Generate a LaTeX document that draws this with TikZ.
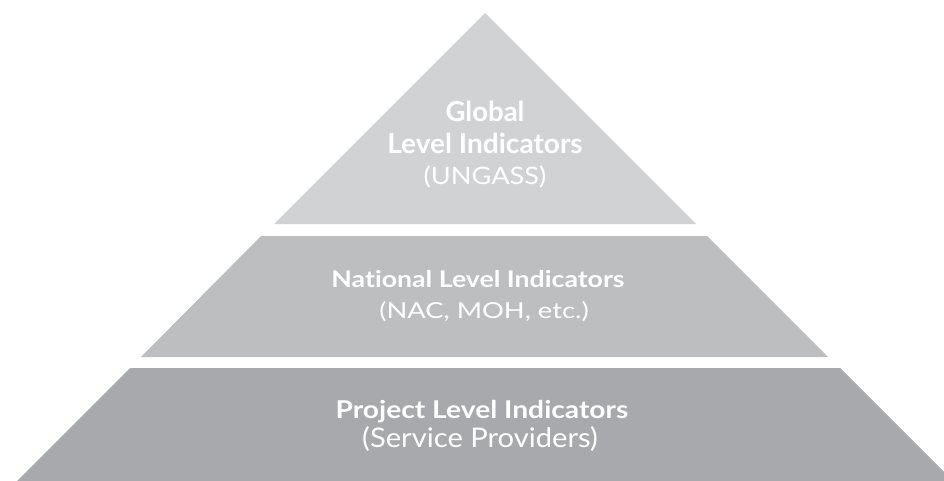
\documentclass[tikz,border=0pt]{standalone}
\usepackage{fontspec}
\setmainfont{Lato}[Ligatures=CommonOff]
\definecolor{tiertop}{HTML}{D1D2D4}
\definecolor{tiermid}{HTML}{BCBEC0}
\definecolor{tierbot}{HTML}{A7A9AC}
\newcommand{\fsz}[1]{\fontsize{#1}{#1}\selectfont}
\begin{document}
\begin{tikzpicture}[x=1pt,y=-1pt,
  tiertxt/.style={text=white,anchor=base,inner sep=0pt}]
\useasboundingbox (0,0) rectangle (944,481);
\clip (0,0) rectangle (944,481);
\fill[tiertop] (485,13) -- (696,224) -- (274,224) -- cycle;
\fill[tiermid] (261,236) -- (707,236) -- (828,357) -- (141,357) -- cycle;
\fill[tierbot] (130,368) -- (840,368) -- (953,481) -- (17,481) -- cycle;
\node[tiertxt] (g1) at (485,122) {\fsz{27.5}\bfseries Global};
\node[tiertxt] (g2) at (485,154) {\scalebox{1.02}[1]{\fsz{27.5}\bfseries Level Indicators}};
\node[tiertxt] (g3) at (485,185) {\scalebox{1.13}[1]{\fsz{24}(UNGASS)}};
\node[tiertxt] (n1) at (478,287) {\scalebox{1.16}[1]{\fsz{23}\bfseries National Level Indicators}};
\node[tiertxt] (n2) at (484,318) {\scalebox{1.24}[1]{\fsz{22}(NAC, MOH, etc.)}};
\node[tiertxt] (p1) at (482,418) {\scalebox{1.15}[1]{\fsz{24.5}\bfseries Project Level Indicators}};
\node[tiertxt] (p2) at (480,447) {\scalebox{1.08}[1]{\fsz{27}(Service Providers)}};
\end{tikzpicture}
\end{document}
